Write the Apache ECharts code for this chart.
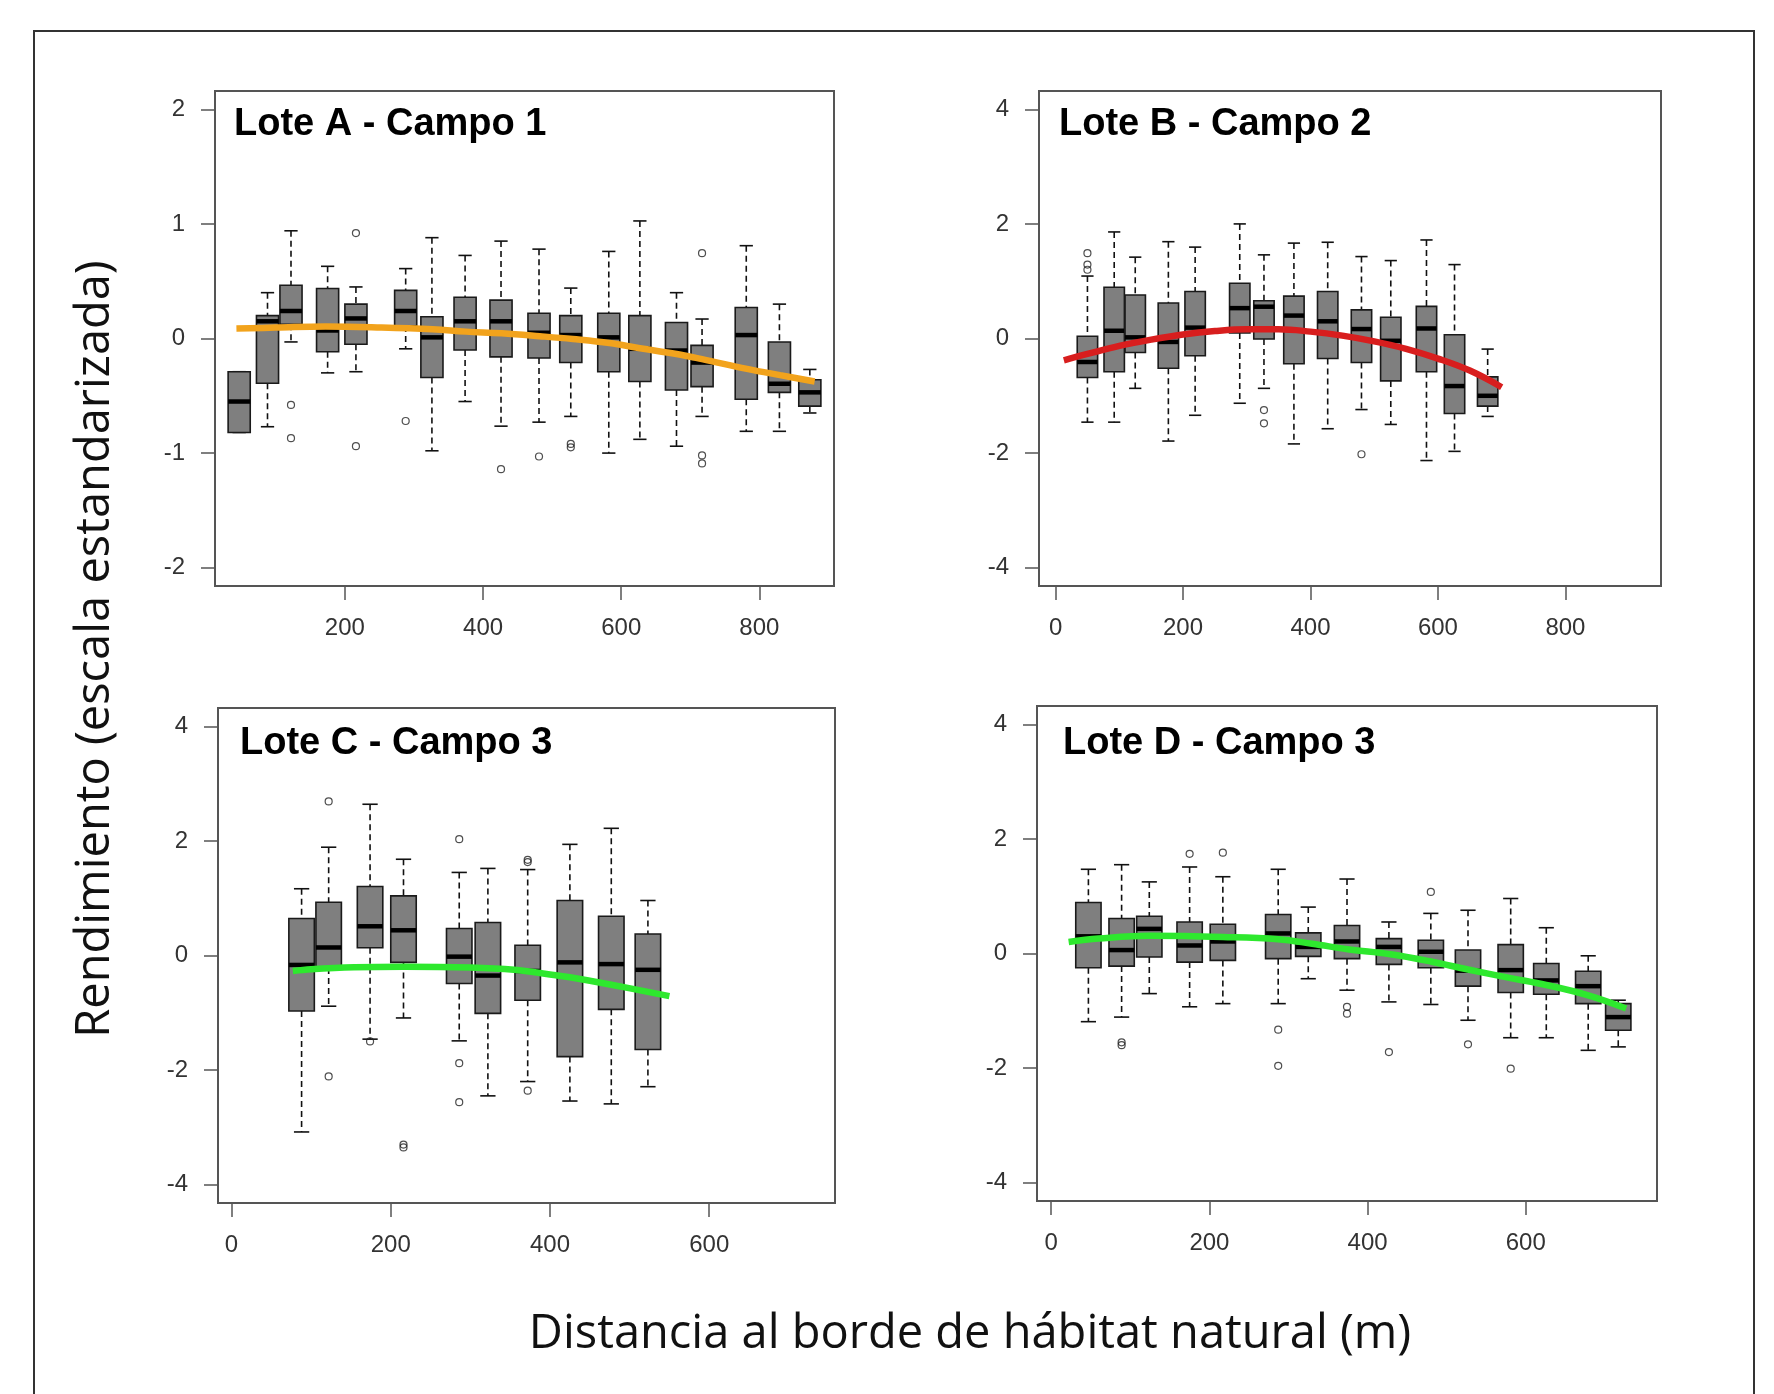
<!DOCTYPE html>
<html>
<head>
<meta charset="utf-8">
<title>Rendimiento vs distancia al borde</title>
<script src="https://cdn.jsdelivr.net/npm/echarts@6/dist/echarts.min.js"></script>
<style>
  html, body { margin: 0; padding: 0; background: #fff; }
  #chart { width: 1774px; height: 1394px; }
</style>
</head>
<body>
<div id="chart"></div>
<script>
// ---- data ----
// box stats are [min, q1, median, q3, max]
const titles = ['Lote A - Campo 1', 'Lote B - Campo 2', 'Lote C - Campo 3', 'Lote D - Campo 3'];

const posA = [47, 88, 122, 175, 216, 288, 326, 374, 426, 481, 527, 582, 627, 680, 717, 781, 829, 873];
const statsA = [
  [-0.82, -0.82, -0.55, -0.29, -0.29], [-0.77, -0.39, 0.15, 0.20, 0.40], [-0.03, 0.125, 0.24, 0.465, 0.94],
  [-0.30, -0.115, 0.07, 0.437, 0.63], [-0.29, -0.05, 0.175, 0.30, 0.45], [-0.09, 0.11, 0.24, 0.42, 0.61],
  [-0.98, -0.34, 0.01, 0.19, 0.88], [-0.55, -0.10, 0.15, 0.36, 0.725], [-0.765, -0.16, 0.15, 0.335, 0.85],
  [-0.73, -0.17, 0.05, 0.22, 0.78], [-0.68, -0.21, 0.03, 0.20, 0.44], [-1.00, -0.29, 0.01, 0.22, 0.76],
  [-0.88, -0.375, -0.09, 0.20, 1.026], [-0.94, -0.45, -0.105, 0.14, 0.40], [-0.68, -0.42, -0.21, -0.06, 0.17],
  [-0.81, -0.53, 0.03, 0.27, 0.81], [-0.81, -0.47, -0.395, -0.03, 0.30], [-0.65, -0.59, -0.47, -0.36, -0.27]
];
const outA = [[122, -0.58], [122, -0.87], [216, 0.92], [216, -0.94], [288, -0.72], [426, -1.14],
  [481, -1.03], [527, -0.92], [527, -0.95], [717, 0.745], [717, -1.02], [717, -1.09]];
const fitA = [[43, 0.087], [100, 0.095], [172, 0.105], [253, 0.096], [327, 0.08], [375, 0.06], [427, 0.045],
  [482, 0.02], [530, -0.005], [583, -0.04], [627, -0.085], [680, -0.135], [717, -0.18], [782, -0.265],
  [830, -0.32], [880, -0.375]];

const posB = [50, 92, 125, 177, 219, 289, 327, 374, 427, 480, 526, 582, 626, 678];
const statsB = [
  [-1.46, -0.68, -0.41, 0.04, 1.09], [-1.46, -0.58, 0.135, 0.895, 1.86], [-0.87, -0.245, 0.02, 0.76, 1.42],
  [-1.79, -0.52, -0.06, 0.62, 1.69], [-1.34, -0.30, 0.19, 0.82, 1.595], [-1.13, 0.095, 0.53, 0.965, 2.0],
  [-0.87, -0.01, 0.555, 0.66, 1.46], [-1.84, -0.44, 0.40, 0.74, 1.665], [-1.575, -0.35, 0.30, 0.82, 1.68],
  [-1.24, -0.42, 0.165, 0.50, 1.43], [-1.50, -0.74, -0.04, 0.37, 1.36], [-2.13, -0.58, 0.175, 0.56, 1.72],
  [-1.97, -1.31, -0.83, 0.065, 1.29], [-1.36, -1.18, -1.0, -0.67, -0.185]
];
const outB = [[50, 1.49], [50, 1.29], [50, 1.20], [327, -1.25], [327, -1.48], [480, -2.02]];
const fitB = [[13, -0.38], [50, -0.27], [100, -0.13], [150, -0.02], [200, 0.07], [250, 0.13], [300, 0.16],
  [350, 0.16], [400, 0.12], [450, 0.05], [500, -0.05], [550, -0.18], [600, -0.35], [650, -0.56], [700, -0.85]];

const posC = [88, 122, 174, 216, 286, 322, 372, 425, 477, 523];
const statsC = [
  [-3.08, -0.97, -0.165, 0.645, 1.165], [-0.885, -0.22, 0.14, 0.93, 1.89], [-1.46, 0.135, 0.51, 1.205, 2.64],
  [-1.09, -0.12, 0.44, 1.04, 1.68], [-1.49, -0.49, -0.02, 0.47, 1.45], [-2.45, -1.01, -0.35, 0.575, 1.52],
  [-2.20, -0.78, -0.27, 0.18, 1.50], [-2.54, -1.765, -0.12, 0.96, 1.94], [-2.59, -0.94, -0.15, 0.685, 2.22],
  [-2.29, -1.64, -0.25, 0.375, 0.96]
];
const outC = [[122, 2.69], [122, -2.11], [174, -1.50], [216, -3.30], [216, -3.35], [286, 2.03], [286, -1.88],
  [286, -2.56], [372, 1.67], [372, 1.63], [372, -2.36]];
const fitC = [[77, -0.27], [100, -0.24], [154, -0.205], [217, -0.195], [300, -0.21], [355, -0.25], [400, -0.33],
  [425, -0.38], [477, -0.51], [550, -0.71]];

const posD = [47, 89, 124, 175, 217, 287, 325, 374, 427, 480, 527, 581, 626, 679, 717];
const statsD = [
  [-1.19, -0.25, 0.30, 0.89, 1.47], [-1.11, -0.22, 0.06, 0.61, 1.55], [-0.70, -0.06, 0.43, 0.65, 1.25],
  [-0.93, -0.15, 0.14, 0.55, 1.51], [-0.875, -0.12, 0.21, 0.51, 1.34], [-0.875, -0.09, 0.35, 0.68, 1.47],
  [-0.44, -0.05, 0.115, 0.36, 0.81], [-0.64, -0.09, 0.21, 0.49, 1.30], [-0.845, -0.19, 0.115, 0.26, 0.55],
  [-0.89, -0.25, 0.03, 0.23, 0.70], [-1.165, -0.57, -0.30, 0.06, 0.755], [-1.47, -0.68, -0.29, 0.155, 0.96],
  [-1.47, -0.71, -0.47, -0.175, 0.45], [-1.69, -0.875, -0.57, -0.31, -0.04], [-1.63, -1.34, -1.11, -0.875, -0.815]
];
const outD = [[89, -1.55], [89, -1.60], [175, 1.74], [217, 1.76], [287, -1.33], [287, -1.96], [374, -0.93],
  [374, -1.05], [427, -1.72], [480, 1.075], [527, -1.585], [581, -2.01]];
const fitD = [[22, 0.20], [60, 0.26], [124, 0.31], [217, 0.29], [287, 0.25], [330, 0.17], [377, 0.07], [427, -0.01],
  [480, -0.14], [527, -0.28], [581, -0.43], [626, -0.55], [679, -0.73], [727, -0.96]];

const xTicksA = [200, 400, 600, 800];
const xTicksB = [0, 200, 400, 600, 800];
const xTicksCD = [0, 200, 400, 600];
const yTicksA = [-2, -1, 0, 1, 2];
const yTicksBCD = [-4, -2, 0, 2, 4];

// ---- layout ----
const panels = [
  { pos: posA, stats: statsA, out: outA, fit: fitA, color: '#F2A31C', grid: [215, 91, 619, 495], x: [12, 908], y: [-2.16, 2.16], xt: xTicksA, yt: yTicksA, t: [234, 128] },
  { pos: posB, stats: statsB, out: outB, fit: fitB, color: '#D81E1E', grid: [1039, 91, 622, 495], x: [-26, 950], y: [-4.32, 4.32], xt: xTicksB, yt: yTicksBCD, t: [1059, 128] },
  { pos: posC, stats: statsC, out: outC, fit: fitC, color: '#2EE82E', grid: [218, 708, 617, 495], x: [-17, 758], y: [-4.32, 4.32], xt: xTicksCD, yt: yTicksBCD, t: [240, 747] },
  { pos: posD, stats: statsD, out: outD, fit: fitD, color: '#2EE82E', grid: [1037, 706, 620, 495], x: [-18, 766], y: [-4.32, 4.32], xt: xTicksCD, yt: yTicksBCD, t: [1063, 747] }
];

const BOX_HALF = 16;
const FONT = 'Liberation Sans, Arial, sans-serif';

function renderBox(params, api) {
  const x = api.value(0);
  const lo = api.value(1), q1 = api.value(2), md = api.value(3), q3 = api.value(4), hi = api.value(5);
  const tl = api.coord([x - BOX_HALF, q3]);
  const br = api.coord([x + BOX_HALF, q1]);
  const top = api.coord([x, hi]);
  const bot = api.coord([x, lo]);
  const capL = api.coord([x - BOX_HALF * 0.6, 0])[0];
  const capR = api.coord([x + BOX_HALF * 0.6, 0])[0];
  const my = api.coord([x, md])[1];
  const dash = { stroke: '#111', lineWidth: 1.6, lineDash: [6, 4] };
  const solid = { stroke: '#111', lineWidth: 1.6 };
  return {
    type: 'group',
    children: [
      { type: 'line', shape: { x1: top[0], y1: top[1], x2: top[0], y2: tl[1] }, style: dash },
      { type: 'line', shape: { x1: bot[0], y1: br[1], x2: bot[0], y2: bot[1] }, style: dash },
      { type: 'line', shape: { x1: capL, y1: top[1], x2: capR, y2: top[1] }, style: solid },
      { type: 'line', shape: { x1: capL, y1: bot[1], x2: capR, y2: bot[1] }, style: solid },
      { type: 'rect', shape: { x: tl[0], y: tl[1], width: br[0] - tl[0], height: br[1] - tl[1] },
        style: { fill: '#7f7f7f', stroke: '#1a1a1a', lineWidth: 1.6 } },
      { type: 'line', shape: { x1: tl[0], y1: my, x2: br[0], y2: my }, style: { stroke: '#000', lineWidth: 4.5 } }
    ]
  };
}

const grid = [], xAxis = [], yAxis = [], series = [], graphic = [];

panels.forEach(function (p, i) {
  grid.push({ left: p.grid[0], top: p.grid[1], width: p.grid[2], height: p.grid[3],
    show: true, borderColor: '#555', borderWidth: 2, backgroundColor: '#fff' });
  xAxis.push({
    type: 'value', gridIndex: i, min: p.x[0], max: p.x[1], position: 'bottom',
    axisLine: { show: false, onZero: false }, splitLine: { show: false },
    axisTick: { show: true, length: 14, lineStyle: { color: '#555', width: 1.5 }, customValues: p.xt },
    axisLabel: { customValues: p.xt, margin: 30, fontSize: 24, color: '#333', fontFamily: FONT }
  });
  yAxis.push({
    type: 'value', gridIndex: i, min: p.y[0], max: p.y[1], position: 'left',
    axisLine: { show: false, onZero: false }, splitLine: { show: false },
    axisTick: { show: true, length: 14, lineStyle: { color: '#555', width: 1.5 }, customValues: p.yt },
    axisLabel: { customValues: p.yt, margin: 30, fontSize: 24, color: '#333', fontFamily: FONT }
  });
  series.push({
    type: 'custom', xAxisIndex: i, yAxisIndex: i, renderItem: renderBox,
    encode: { x: 0, y: [1, 2, 3, 4, 5] },
    data: p.pos.map(function (x, k) { return [x].concat(p.stats[k]); }),
    z: 2
  });
  series.push({
    type: 'scatter', xAxisIndex: i, yAxisIndex: i, data: p.out, symbol: 'circle', symbolSize: 7,
    itemStyle: { color: 'rgba(0,0,0,0)', borderColor: '#222', borderWidth: 1.2 }, z: 3
  });
  series.push({
    type: 'line', xAxisIndex: i, yAxisIndex: i, data: p.fit, smooth: 0.4, showSymbol: false,
    lineStyle: { color: p.color, width: 6.5 }, z: 4
  });
  graphic.push({
    type: 'text', left: p.t[0], top: p.t[1] - 22,
    style: { text: titles[i], font: 'bold 38px ' + FONT, fill: '#000' }
  });
});

graphic.push({
  type: 'rect', shape: { x: 34, y: 31, width: 1720, height: 1380 },
  style: { fill: 'none', stroke: '#333', lineWidth: 2 }, z: -1
});
graphic.push({
  type: 'text', x: 96, y: 649, rotation: Math.PI / 2,
  style: { text: 'Rendimiento (escala estandarizada)', font: '47px "Open Sans", sans-serif', fill: '#111',
    textAlign: 'center', textVerticalAlign: 'middle' }
});
graphic.push({
  type: 'text', x: 970, y: 1335,
  style: { text: 'Distancia al borde de hábitat natural (m)', font: '47px "Open Sans", sans-serif', fill: '#111',
    textAlign: 'center', textVerticalAlign: 'middle' }
});

const chart = echarts.init(document.getElementById('chart'));
chart.setOption({
  animation: false,
  backgroundColor: '#fff',
  grid: grid,
  xAxis: xAxis,
  yAxis: yAxis,
  series: series,
  graphic: graphic
});
</script>
</body>
</html>
